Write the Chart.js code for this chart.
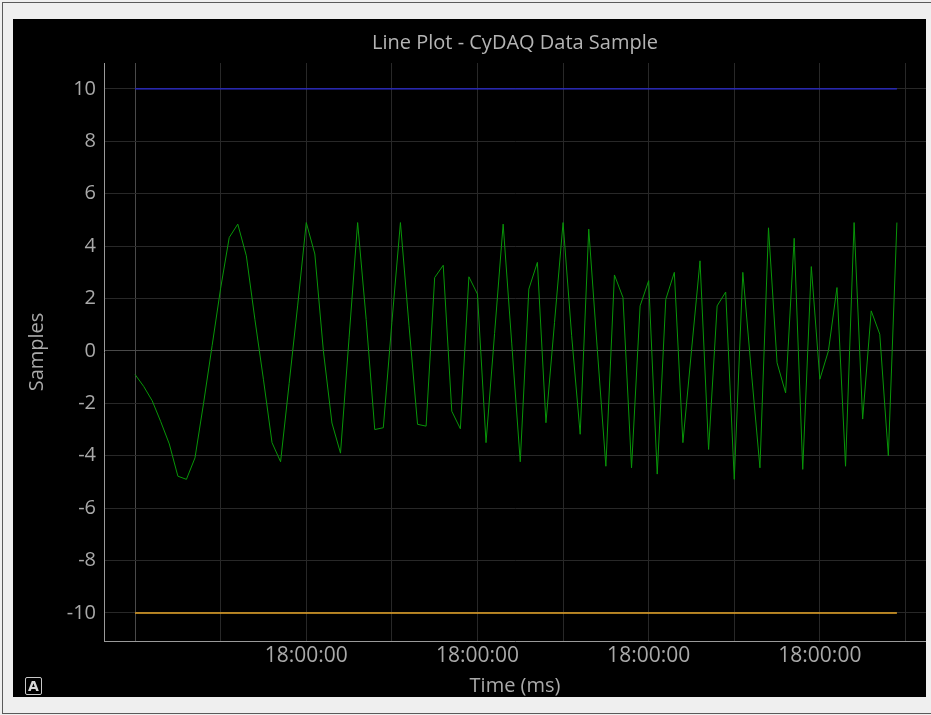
<!DOCTYPE html>
<html>
<head>
<meta charset="utf-8">
<script src="https://cdn.jsdelivr.net/npm/chart.js"></script>
<style>
  html, body { margin: 0; padding: 0; }
  body { width: 931px; height: 715px; background: #efefef; position: relative; overflow: hidden; font-family: "Open Sans", sans-serif; }
  #frame { position: absolute; left: 2px; top: 2px; width: 931px; height: 710px; border-left: 1px solid #5a5a5a; border-top: 1px solid #5a5a5a; border-bottom: 1px solid #5a5a5a; }
  #plot { position: absolute; left: 13px; top: 19px; background: #000; }
  #autoBtn { position: absolute; left: 25px; top: 677px; width: 15px; height: 16px; border: 1px solid #c8c8c8; border-radius: 2px; color: #d8d8d8; font: bold 14px "DejaVu Sans", sans-serif; line-height: 16px; text-align: center; }
</style>
</head>
<body>
<div id="frame"></div>
<canvas id="plot" width="913" height="678"></canvas>
<div id="autoBtn">A</div>
<script>
// green trace, one value per sample
var samples = [
  -0.9, -1.35, -1.9, -2.7, -3.55, -4.78, -4.9, -4.08, -2.0, 0.2,
  2.4, 4.33, 4.84, 3.63, 1.2, -1.1, -3.5, -4.23, -1.24, 1.75,
  4.9, 3.7, 0.0, -2.75, -3.9, 0.5, 4.9, 1.2, -3.0, -2.93,
  1.08, 4.9, 0.98, -2.8, -2.87, 2.8, 3.27, -2.3, -2.97, 2.83,
  2.17, -3.5, 0.67, 4.84, 0.3, -4.23, 2.36, 3.38, -2.74, 1.08,
  4.9, 0.6, -3.18, 4.65, 0.06, -4.4, 2.9, 2.04, -4.46, 1.72,
  2.68, -4.7, 1.97, 3.0, -3.5, 0.0, 3.44, -3.76, 1.72, 2.25,
  -4.9, 3.0, -0.8, -4.46, 4.7, -0.45, -1.6, 4.3, -4.52, 3.22,
  -1.08, 0.0, 2.42, -4.4, 4.9, -2.6, 1.53, 0.64, -4.0, 4.9
];
// limit lines
var limitX = [0, 89];
var upperLimit = [10, 10];
var lowerLimit = [-10, -10];

var xGridTicks = [0, 10, 20, 30, 40, 50, 60, 70, 80, 90];
var xLabelTicks = [20, 40, 60, 80];
var xLabelText = ['18:00:00', '18:00:00', '18:00:00', '18:00:00'];
var yTicks = [-10, -8, -6, -4, -2, 0, 2, 4, 6, 8, 10];

var textColor = '#a9a9a9';

function pts(xs, ys) {
  return ys.map(function (v, i) { return { x: xs[i], y: v }; });
}

// title centred over the plot area, not the whole canvas
var plotTitle = {
  id: 'plotTitle',
  afterDraw: function (chart, args, opts) {
    var c = chart.ctx, a = chart.chartArea;
    c.save();
    c.fillStyle = opts.color;
    c.font = opts.size + 'px "Open Sans"';
    c.textAlign = 'center';
    c.textBaseline = 'middle';
    c.fillText(opts.text, (a.left + a.right) / 2, opts.y);
    c.restore();
  }
};

var ctx = document.getElementById('plot');
var myChart = new Chart(ctx, {
  type: 'line',
  data: {
    datasets: [{
      data: samples.map(function (v, i) { return { x: i, y: v }; }),
      borderColor: '#089608',
      borderWidth: 1,
      pointRadius: 0,
      tension: 0
    }, {
      data: pts(limitX, upperLimit),
      borderColor: '#2a2ad8',
      borderWidth: 1.2,
      pointRadius: 0
    }, {
      data: pts(limitX, lowerLimit),
      borderColor: '#e8a628',
      borderWidth: 1.5,
      pointRadius: 0
    }]
  },
  plugins: [plotTitle],
  options: {
    responsive: false,
    devicePixelRatio: 1,
    animation: false,
    events: [],
    layout: { padding: { top: 44 } },
    plugins: {
      legend: { display: false },
      tooltip: { enabled: false },
      title: { display: false },
      plotTitle: { text: 'Line Plot - CyDAQ Data Sample', color: '#b4b4b4', size: 20, y: 24 }
    },
    scales: {
      x: {
        type: 'linear',
        min: -3.63,
        max: 92.4,
        afterFit: function (scale) { scale.height = 56; },
        afterBuildTicks: function (scale) {
          scale.ticks = xGridTicks.map(function (v) { return { value: v }; });
        },
        ticks: {
          autoSkip: false,
          maxRotation: 0,
          color: textColor,
          padding: 2,
          font: { family: 'Open Sans', size: 21 },
          callback: function (v) {
            var k = xLabelTicks.indexOf(v);
            return k >= 0 ? xLabelText[k] : '';
          }
        },
        grid: {
          drawTicks: false,
          lineWidth: 1,
          color: function (c) { return c.tick && c.tick.value === 0 ? '#4a4a4a' : '#282828'; }
        },
        border: { display: true, color: '#9a9a9a', width: 1 },
        title: {
          display: true,
          text: 'Time (ms)',
          color: textColor,
          font: { family: 'Open Sans', size: 20, lineHeight: 1.1 },
          padding: { top: 0, bottom: 0 }
        }
      },
      y: {
        min: -11.07,
        max: 10.99,
        afterFit: function (scale) { scale.width = 91; },
        afterBuildTicks: function (scale) {
          scale.ticks = yTicks.map(function (v) { return { value: v }; });
        },
        ticks: {
          color: textColor,
          padding: 8,
          font: { family: 'Open Sans', size: 20 }
        },
        grid: {
          drawTicks: false,
          color: function (c) { return c.tick && c.tick.value === 0 ? '#4a4a4a' : '#282828'; }
        },
        border: { display: true, color: '#9a9a9a', width: 1 },
        title: {
          display: true,
          text: 'Samples',
          color: textColor,
          font: { family: 'Open Sans', size: 20, lineHeight: 1.2 },
          padding: { top: 12, bottom: 0 }
        }
      }
    }
  }
});
</script>
</body>
</html>
